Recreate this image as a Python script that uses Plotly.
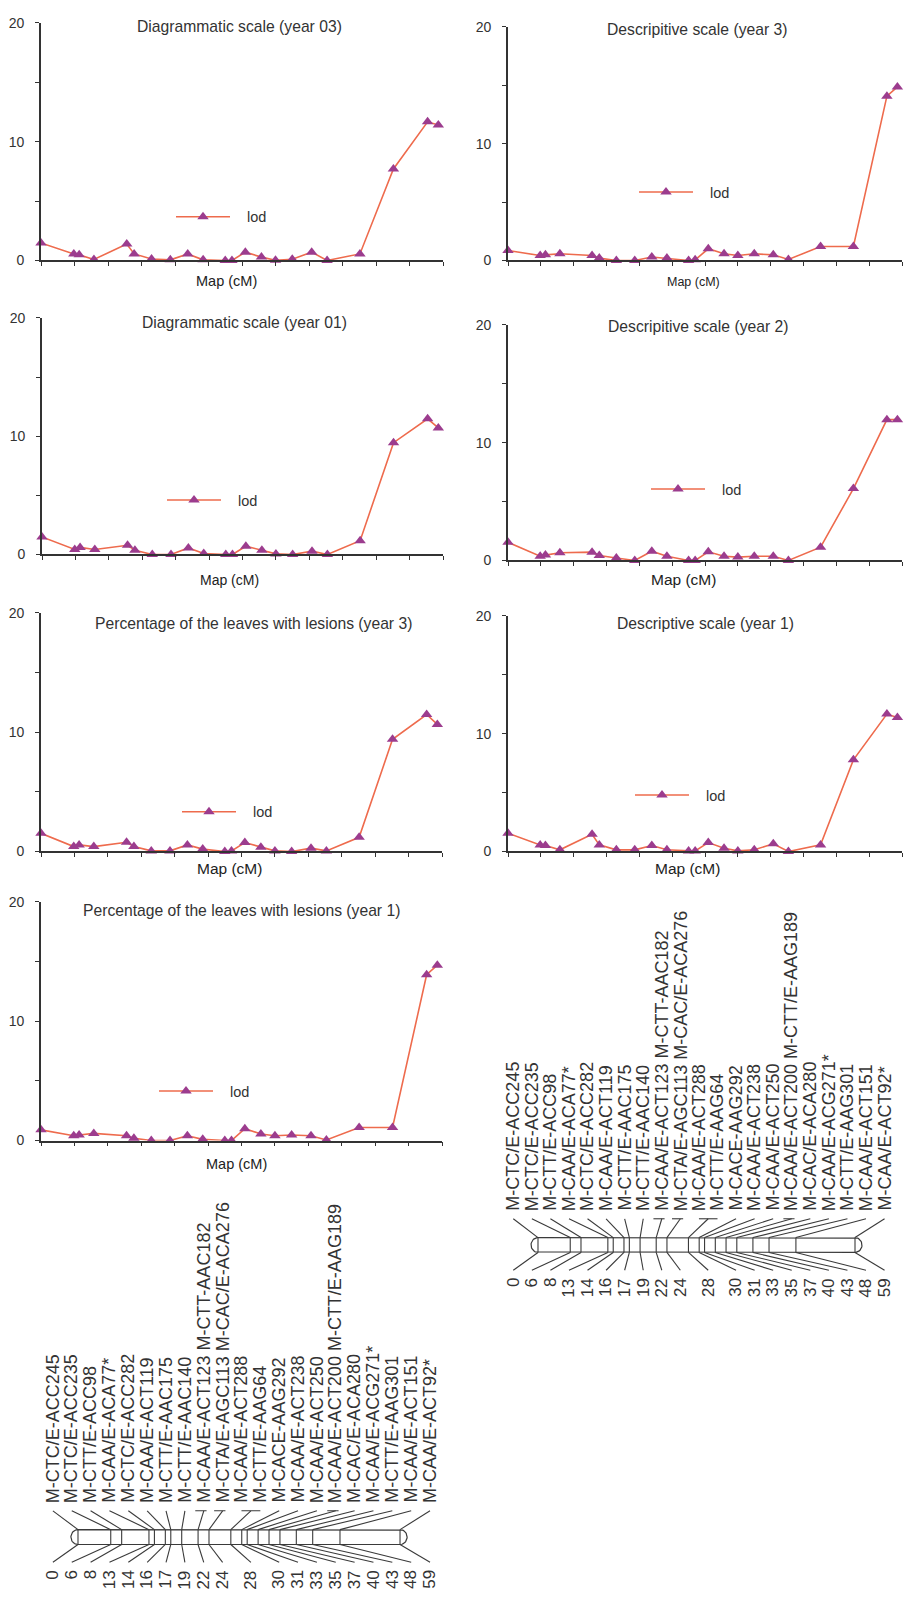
import plotly.graph_objects as go
import numpy as np

W, H = 909, 1600
FONT = "Liberation Sans, Arial, sans-serif"
LINE_C = "#EE6B4D"
MARK_C = "#9C3C8E"
AX_C = "#333333"
MAP_C = "#3a3a3a"

# ---------------- data ----------------
lod_cm = [0, 4.9, 5.7, 7.9, 12.8, 13.9, 16.5, 19.3, 21.9, 24.2, 27.5, 28.5,
          30.5, 32.9, 35.0, 37.5, 40.4, 42.7, 47.6, 52.6, 57.7, 59.3]

lod_diag_y03 = [1.47, 0.55, 0.47, 0.08, 1.39, 0.55, 0.12, 0.05, 0.55, 0.05, 0, 0,
                0.7, 0.28, 0.02, 0.1, 0.7, 0, 0.55, 7.7, 11.67, 11.4]
lod_desc_y3 = [0.85, 0.42, 0.48, 0.57, 0.42, 0.2, 0, 0, 0.3, 0.2, 0, 0.05,
               1.0, 0.57, 0.42, 0.57, 0.48, 0.08, 1.2, 1.2, 14.06, 14.85]
lod_diag_y01 = [1.48, 0.42, 0.6, 0.42, 0.78, 0.36, 0, 0, 0.55, 0.08, 0, 0,
                0.7, 0.36, 0.05, 0, 0.28, 0, 1.17, 9.45, 11.47, 10.7]
lod_desc_y2 = [1.54, 0.36, 0.45, 0.65, 0.7, 0.42, 0.2, 0, 0.78, 0.36, 0, 0,
               0.73, 0.36, 0.28, 0.36, 0.36, 0, 1.12, 6.1, 11.95, 11.95]
lod_pct_y3 = [1.52, 0.41, 0.55, 0.41, 0.77, 0.41, 0.05, 0.05, 0.55, 0.2, 0, 0.05,
              0.75, 0.36, 0.05, 0, 0.28, 0.05, 1.19, 9.4, 11.48, 10.65]
lod_desc_y1 = [1.55, 0.56, 0.5, 0.14, 1.46, 0.56, 0.14, 0.14, 0.5, 0.14, 0.05, 0.05,
               0.76, 0.28, 0.05, 0.14, 0.65, 0, 0.56, 7.78, 11.66, 11.38]
lod_pct_y1 = [0.9, 0.4, 0.47, 0.6, 0.4, 0.2, 0, 0, 0.4, 0.1, 0, 0,
              1.0, 0.55, 0.4, 0.47, 0.4, 0.05, 1.1, 1.1, 13.9, 14.7]

panel_titles = ["Diagrammatic scale (year 03)", "Descripitive scale (year 3)",
                "Diagrammatic scale (year 01)", "Descripitive scale (year 2)",
                "Percentage of the leaves with lesions (year 3)", "Descriptive scale (year 1)",
                "Percentage of the leaves with lesions (year 1)"]
panel_series = [lod_diag_y03, lod_desc_y3, lod_diag_y01, lod_desc_y2,
                lod_pct_y3, lod_desc_y1, lod_pct_y1]
series_name = "lod"
x_title = "Map (cM)"
y_tickvals = [0, 5, 10, 15, 20]
y_ticktext = ["0", "", "10", "", "20"]
x_tickvals = list(range(0, 61, 5))

marker_names = ["M-CTC/E-ACC245", "M-CTC/E-ACC235", "M-CTT/E-ACC98", "M-CAA/E-ACA77*",
                "M-CTC/E-ACC282", "M-CAA/E-ACT119", "M-CTT/E-AAC175", "M-CTT/E-AAC140",
                "M-CAA/E-ACT123 M-CTT-AAC182", "M-CTA/E-AGC113 M-CAC/E-ACA276",
                "M-CAA/E-ACT288", "M-CTT/E-AAG64", "M-CACE-AAG292", "M-CAA/E-ACT238",
                "M-CAA/E-ACT250", "M-CAA/E-ACT200 M-CTT/E-AAG189", "M-CAC/E-ACA280",
                "M-CAA/E-ACG271*", "M-CTT/E-AAG301", "M-CAA/E-ACT151", "M-CAA/E-ACT92*"]
marker_cm = [0, 6, 8, 13, 14, 16, 17, 19, 22, 24, 28, 28, 30, 31, 33, 35, 37, 40, 43, 48, 59]

# ---------------- layout geometry (pixels) ----------------
panels = [
    (41, 443, 15, 255, (239, 19), (226, 276), (176, 211), 14.5),
    (508, 902, 19, 255, (697, 22), (693, 277), (639, 186), 12.5),
    (42, 443, 313, 552, (244, 318), (229, 578), (167, 497), 14),
    (508, 902, 320, 558, (698, 322), (683, 577), (651, 486), 15.5),
    (41, 442, 611, 852, (254, 622), (229, 869), (182, 812), 15.5),
    (508, 902, 614, 852, (705, 622), (687, 869), (635, 795), 15.5),
    (41, 442, 903, 1144, (242, 912), (236, 1168), (159, 1094), 14.5),
]

def px(x):
    return x / W

def py(y):
    return 1 - y / H

fig = go.Figure()
layout = dict(width=W, height=H, margin=dict(l=0, r=0, t=0, b=0),
              paper_bgcolor="white", plot_bgcolor="rgba(0,0,0,0)",
              font=dict(family=FONT, color=AX_C), showlegend=True)
annotations = []

for i, (x0, x1, yt, yb, tpos, mpos, lpos, msize) in enumerate(panels):
    k = i + 1
    xa = "x" if k == 1 else f"x{k}"
    ya = "y" if k == 1 else f"y{k}"
    lg = "legend" if k == 1 else f"legend{k}"
    fig.add_trace(go.Scatter(
        x=lod_cm, y=panel_series[i], mode="lines+markers",
        name="\u00a0\u00a0\u00a0" + series_name,
        line=dict(color=LINE_C, width=1.6),
        marker=dict(symbol="triangle-up", size=10, color=MARK_C),
        xaxis=xa, yaxis=ya, legend=lg, cliponaxis=False, showlegend=True))
    layout["xaxis" if k == 1 else f"xaxis{k}"] = dict(
        domain=[px(x0), px(x1)], range=[0, 60], anchor=ya,
        showgrid=False, zeroline=False, showline=True, linecolor=AX_C, linewidth=1.6,
        tickmode="array", tickvals=x_tickvals, ticks="outside", ticklen=4,
        tickwidth=1.3, tickcolor=AX_C, showticklabels=False, fixedrange=True)
    layout["yaxis" if k == 1 else f"yaxis{k}"] = dict(
        domain=[py(yb), py(yt)], range=[0, 20], anchor=xa,
        showgrid=False, zeroline=False, showline=True, linecolor=AX_C, linewidth=1.6,
        tickmode="array", tickvals=y_tickvals, ticktext=y_ticktext,
        ticks="outside", ticklen=4, tickwidth=1.3, tickcolor=AX_C,
        ticklabelstandoff=8,
        tickfont=dict(size=14, family=FONT, color=AX_C), fixedrange=True)
    layout[lg] = dict(x=px(lpos[0] - 5), y=py(lpos[1]), xanchor="left", yanchor="middle",
                      bgcolor="rgba(0,0,0,0)", borderwidth=0, itemwidth=54,
                      font=dict(size=14.5, family=FONT, color=AX_C))
    annotations.append(dict(text=panel_titles[i], x=px(tpos[0]), y=py(tpos[1]),
                            xref="paper", yref="paper", showarrow=False,
                            xanchor="center", yanchor="middle",
                            font=dict(size=15.7, family=FONT, color=AX_C)))
    annotations.append(dict(text=x_title, x=px(mpos[0]), y=py(mpos[1]),
                            xref="paper", yref="paper", showarrow=False,
                            xanchor="center", yanchor="middle",
                            font=dict(size=msize, family=FONT, color="#222222")))

# ---------------- linkage maps ----------------
BAR_H = 15
CONN_TOP = -19
LABEL_BOTTOM = -26
CONN_BOT = 33
NUM_TOP = 40
CAP_W = 1.3
SLOT0, SLOT1 = -4.6, 64.5

# (axis index, 0 cM px, px per cM, bar-top px, region top px, region bottom px)
maps = [(8, 78, 5.458, 1537, 1180, 1600),
        (9, 538, 5.373, 1242, 872, 1310)]

n = len(marker_names)
slots = np.linspace(SLOT0, SLOT1, n)
uniq = sorted(set(marker_cm))
uniq_slot = [float(np.mean([slots[j] for j in range(n) if marker_cm[j] == u])) for u in uniq]
cm_min, cm_max = min(marker_cm), max(marker_cm)

for (k, zero_px, scale, bar_px, top_px, bot_px) in maps:
    xa, ya = f"x{k}", f"y{k}"
    layout[f"xaxis{k}"] = dict(domain=[px(zero_px - 8 * scale), px(zero_px + 68 * scale)],
                               range=[-8, 68], visible=False, anchor=ya, fixedrange=True)
    layout[f"yaxis{k}"] = dict(domain=[py(bot_px), py(top_px)],
                               range=[bot_px - bar_px, top_px - bar_px],
                               visible=False, anchor=xa, fixedrange=True)
    # chromosome bar outline with rounded caps
    t = np.linspace(0, np.pi, 25)
    ox = ([cm_min, cm_max] + list(cm_max + CAP_W * np.sin(t)) + [cm_max, cm_min]
          + list(cm_min - CAP_W * np.sin(t)))
    oy = ([0, 0] + list(BAR_H / 2 - BAR_H / 2 * np.cos(t)) + [BAR_H, BAR_H]
          + list(BAR_H / 2 + BAR_H / 2 * np.cos(t)))
    fig.add_trace(go.Scatter(x=ox, y=oy, mode="lines", line=dict(color=MAP_C, width=1.2),
                             xaxis=xa, yaxis=ya, showlegend=False, hoverinfo="skip"))
    lx, ly = [], []
    for u in uniq:  # bands
        lx += [u, u, None]
        ly += [0, BAR_H, None]
    for u, s in zip(uniq, uniq_slot):  # upper connectors
        lx += [u, s, None]
        ly += [0, CONN_TOP, None]
        members = [slots[j] for j in range(n) if marker_cm[j] == u]
        if len(members) > 1:
            lx += [min(members), max(members), None]
            ly += [CONN_TOP, CONN_TOP, None]
    ds = slots[1] - slots[0]
    for j in range(n):  # ticks for slots holding two markers
        if " " in marker_names[j]:
            lx += [slots[j] - 0.45 * ds, slots[j] + 0.15 * ds, None]
            ly += [CONN_TOP, CONN_TOP, None]
    for u, s in zip(uniq, uniq_slot):  # lower connectors
        lx += [u, s, None]
        ly += [BAR_H, CONN_BOT, None]
    fig.add_trace(go.Scatter(x=lx, y=ly, mode="lines", line=dict(color=MAP_C, width=1.1),
                             xaxis=xa, yaxis=ya, showlegend=False, hoverinfo="skip"))
    for j in range(n):
        annotations.append(dict(text=marker_names[j], x=slots[j], y=LABEL_BOTTOM,
                                xref=xa, yref=ya, showarrow=False, textangle=-90,
                                xanchor="center", yanchor="bottom", borderpad=0,
                                font=dict(size=18, family=FONT, color="#333333")))
    for u, s in zip(uniq, uniq_slot):
        annotations.append(dict(text=str(u), x=s, y=NUM_TOP,
                                xref=xa, yref=ya, showarrow=False, textangle=-90,
                                xanchor="center", yanchor="top", borderpad=0,
                                font=dict(size=17, family=FONT, color="#333333")))

layout["annotations"] = annotations
fig.update_layout(**layout)
fig.write_html("out.html", config={"displayModeBar": False},
               post_script="document.body.style.margin='0';document.body.style.overflow='hidden';")
